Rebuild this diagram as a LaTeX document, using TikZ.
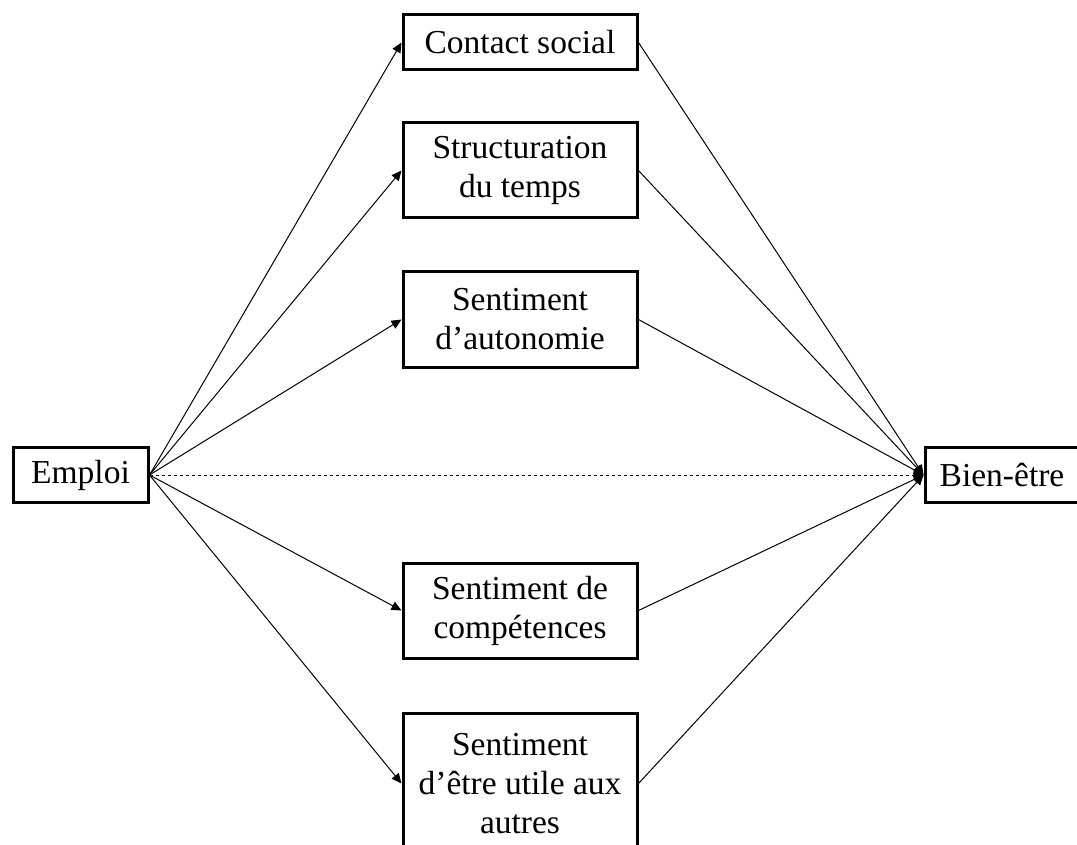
\documentclass[tikz,border=0pt]{standalone}
\usepackage{fontspec}
\setmainfont{Liberation Serif}
\usetikzlibrary{arrows.meta}

\begin{document}
\begin{tikzpicture}[x=1pt,y=-1pt,
  box/.style={draw,line width=3pt,align=center,minimum width=234pt,inner sep=3pt,font=\fontsize{33.5}{39}\selectfont},
  link/.style={line width=1pt,-{Triangle[length=10pt,width=9pt]}}]
\useasboundingbox (0,0) rectangle (1077,845);
% the two ends of the model
\node[box,minimum width=135pt,minimum height=55pt] (emploi) at (80.5,475) {Emploi};
\node[box,minimum width=154pt,minimum height=55pt] (bienetre) at (1002,475) {Bien-être};
% the mediators
\node[box,minimum height=55pt] (contact) at (520,42.5) {Contact social};
\node[box,minimum height=95pt] (temps) at (520,170.5) {Structuration\\du temps};
\node[box,minimum height=95pt] (autonomie) at (520,319.5) {Sentiment\\d’autonomie};
\node[box,minimum height=95pt] (competences) at (520,610.5) {Sentiment de\\compétences};
\node[box,minimum height=140pt,anchor=north] (utile) at (520,712) {Sentiment\\d’être utile aux\\autres};
\draw[link] (emploi.east) -- (contact.west);
\draw[link] (emploi.east) -- (temps.west);
\draw[link] (emploi.east) -- (autonomie.west);
\draw[link] (emploi.east) -- (competences.west);
\draw[link] (emploi.east) -- (utile.west);
\draw[link] (contact.east) -- (bienetre.west);
\draw[link] (temps.east) -- (bienetre.west);
\draw[link] (autonomie.east) -- (bienetre.west);
\draw[link] (competences.east) -- (bienetre.west);
\draw[link] (utile.east) -- (bienetre.west);
% direct effect
\draw[link,dashed] (emploi.east) -- (bienetre.west);
\end{tikzpicture}
\end{document}
